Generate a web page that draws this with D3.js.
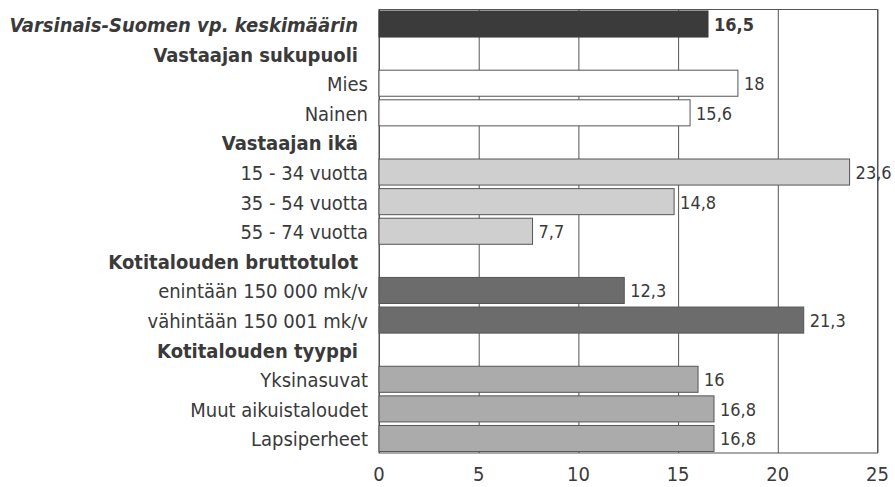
<!DOCTYPE html>
<html>
<head>
<meta charset="utf-8">
<script src="https://cdn.jsdelivr.net/npm/d3@7"></script>
<style>
  body { margin: 0; background: #fff; }
  svg text { font-family: "Liberation Sans Narrow", "DejaVu Sans Condensed", "Liberation Sans", sans-serif; fill: #3a3a3a; }
</style>
</head>
<body>
<svg id="chart"></svg>
<script>
const categories = [
  'Varsinais-Suomen vp. keskimäärin',
  'Vastaajan sukupuoli',
  'Mies',
  'Nainen',
  'Vastaajan ikä',
  '15 - 34 vuotta',
  '35 - 54 vuotta',
  '55 - 74 vuotta',
  'Kotitalouden bruttotulot',
  'enintään 150 000 mk/v',
  'vähintään 150 001 mk/v',
  'Kotitalouden tyyppi',
  'Yksinasuvat',
  'Muut aikuistaloudet',
  'Lapsiperheet'
];
const values = [16.5, null, 18, 15.6, null, 23.6, 14.8, 7.7, null, 12.3, 21.3, null, 16, 16.8, 16.8];
const groups = ['total', 'header', 'sex', 'sex', 'header', 'age', 'age', 'age', 'header', 'income', 'income', 'header', 'household', 'household', 'household'];
const valueLabels = ['16,5', '', '18', '15,6', '', '23,6', '14,8', '7,7', '', '12,3', '21,3', '', '16', '16,8', '16,8'];
const xTicks = [0, 5, 10, 15, 20, 25];

const width = 895, height = 487;
const plotLeft = 379, plotRight = 877.5, plotTop = 9.5, plotBottom = 453;

const fills = { total: '#3b3b3b', sex: '#ffffff', age: '#cfcfcf', income: '#6c6c6c', household: '#ababab' };

const svg = d3.select('#chart').attr('width', width).attr('height', height);

const x = d3.scaleLinear().domain([0, 25]).range([plotLeft, plotRight]);
const y = d3.scaleBand().domain(categories).range([plotTop, plotBottom]).paddingInner(0.12).paddingOuter(0.05);

// gridlines behind bars
svg.append('g')
  .attr('class', 'grid')
  .attr('transform', 'translate(0,' + plotBottom + ')')
  .call(d3.axisBottom(x).tickValues(xTicks).tickSize(-(plotBottom - plotTop)).tickFormat(''))
  .call(g => g.select('.domain').remove())
  .call(g => g.selectAll('line').attr('stroke', '#555').attr('stroke-width', 1));

svg.append('rect')
  .attr('x', plotLeft).attr('y', plotTop)
  .attr('width', plotRight - plotLeft).attr('height', plotBottom - plotTop)
  .attr('fill', 'none').attr('stroke', '#555').attr('stroke-width', 1);

const rows = categories.map((c, i) => ({ label: c, value: values[i], group: groups[i], text: valueLabels[i] }));

svg.selectAll('.bar')
  .data(rows.filter(d => d.value != null))
  .enter()
  .append('rect')
  .attr('class', 'bar')
  .attr('x', x(0))
  .attr('y', d => y(d.label))
  .attr('width', d => x(d.value) - x(0))
  .attr('height', y.bandwidth())
  .attr('fill', d => fills[d.group])
  .attr('stroke', d => d.group == 'total' ? '#3b3b3b' : '#555')
  .attr('stroke-width', 1);

svg.selectAll('.value')
  .data(rows.filter(d => d.value != null))
  .enter()
  .append('text')
  .attr('class', 'value')
  .attr('x', d => x(d.value) + 6)
  .attr('y', d => y(d.label) + y.bandwidth() / 2 + 7)
  .attr('font-size', 18)
  .attr('font-weight', d => d.group == 'total' ? 'bold' : 'normal')
  .text(d => d.text);

svg.selectAll('.cat')
  .data(rows)
  .enter()
  .append('text')
  .attr('class', 'cat')
  .attr('x', d => d.group == 'header' || d.group == 'total' ? 358 : 368)
  .attr('y', d => y(d.label) + y.bandwidth() / 2 + 8)
  .attr('text-anchor', 'end')
  .attr('font-size', 20)
  .attr('font-weight', d => d.group == 'header' || d.group == 'total' ? 'bold' : 'normal')
  .attr('font-style', d => d.group == 'total' ? 'italic' : 'normal')
  .text(d => d.label);

svg.selectAll('.tick-label')
  .data(xTicks)
  .enter()
  .append('text')
  .attr('class', 'tick-label')
  .attr('x', d => x(d))
  .attr('y', 481)
  .attr('text-anchor', 'middle')
  .attr('font-size', 20)
  .text(d => d);
</script>
</body>
</html>
